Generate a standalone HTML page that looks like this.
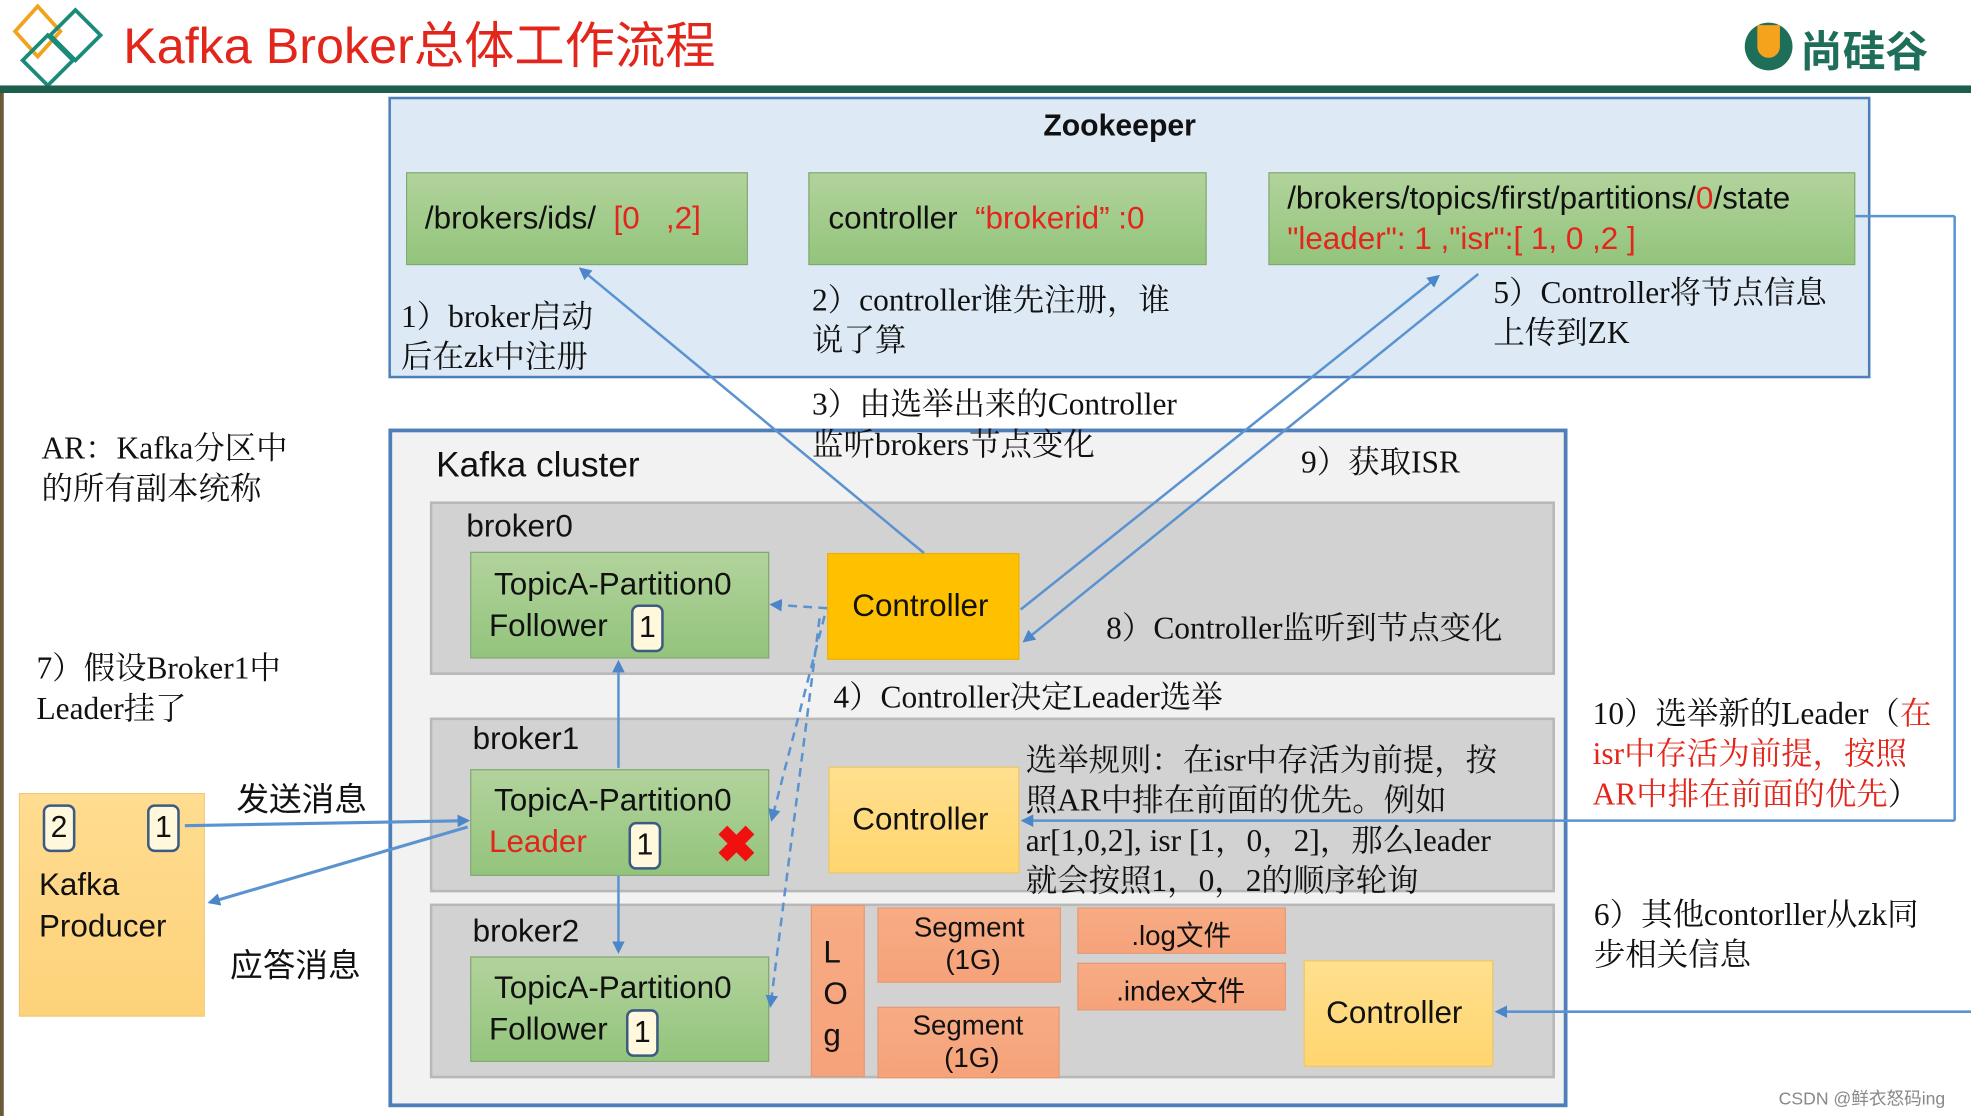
<!DOCTYPE html>
<html><head><meta charset="utf-8">
<style>
html,body{margin:0;padding:0;background:#fff;overflow:hidden;}
#wrap{position:absolute;left:0;top:0;width:1568px;height:888px;transform-origin:0 0;transform:scale(1.25702,1.25676);font-family:"Liberation Sans","Noto Sans CJK SC",sans-serif;}
.a{position:absolute;box-sizing:border-box;}
.g{background:linear-gradient(#b2d39c,#93c47c);border:1.5px solid #7fa86c;}
.serif{font-family:"Liberation Serif","Noto Serif CJK SC",serif;font-size:25px;line-height:32px;color:#222;}
.t{position:absolute;white-space:nowrap;color:#111;}
.red{color:#e3261b;}
.br{background:#d2d2d2;border:2px solid #b8b8b8;}
.badge{position:absolute;width:26px;height:38px;border:2.5px solid #3d5a80;border-radius:6px;background:#fff8dc;box-sizing:border-box;font-size:24px;text-align:center;line-height:34px;color:#111;}
.or{background:linear-gradient(#f7ac84,#f6a27a);border:1.5px solid #e89670;}
.ctl{background:linear-gradient(#ffe08f,#ffd56e);border:1.5px solid #f0c860;}
</style></head><body>
<div id="wrap">
<!-- header -->
<svg class="a" style="left:0;top:0" width="1568" height="888">
  <g fill="none" stroke-width="3">
    <path d="M30 5 L48 25 L30 45 L12 25 Z" stroke="#f2a31c"/>
    <path d="M60 8 L80 28 L60 48 L40 28 Z" stroke="#1a8a7a"/>
    <path d="M38 28 L58 48 L38 68 L18 48 Z" stroke="#1a8a7a"/>
  </g>
  <rect x="0" y="68" width="1568" height="6" fill="#1e5e4c"/>
  <rect x="0" y="74" width="3" height="814" fill="#6a5a3a"/>
</svg>
<div class="t" style="left:98px;top:4px;font-size:40px;color:#e3261b;">Kafka Broker总体工作流程</div>
<div class="a" style="left:1388px;top:18px;width:38px;height:38px;border-radius:50%;background:#1e6e5a;"></div>
<div class="a" style="left:1398px;top:20px;width:18px;height:26px;border-radius:0 0 9px 9px;background:#f5a21c;"></div>
<div class="t" style="left:1432px;top:14px;font-size:34px;color:#1e6e5a;font-weight:bold;">尚硅谷</div>

<!-- Zookeeper -->
<div class="a" style="left:309px;top:77px;width:1179px;height:224px;background:#dde9f5;border:2.5px solid #4f7fb8;"></div>
<div class="t" style="left:830px;top:87px;font-size:24px;font-weight:bold;">Zookeeper</div>
<div class="a g" style="left:323px;top:137px;width:272px;height:74px;"></div>
<div class="t" style="left:338px;top:160px;font-size:25px;">/brokers/ids/ &nbsp;<span class="red">[0 &nbsp;&nbsp;,2]</span></div>
<div class="a g" style="left:643px;top:137px;width:317px;height:74px;"></div>
<div class="t" style="left:659px;top:160px;font-size:25px;">controller &nbsp;<span class="red">“brokerid” :0</span></div>
<div class="a g" style="left:1009px;top:137px;width:467px;height:74px;"></div>
<div class="t" style="left:1024px;top:144px;font-size:25px;">/brokers/topics/first/partitions/<span class="red">0</span>/state</div>
<div class="t red" style="left:1024px;top:176px;font-size:25px;">"leader": 1 ,"isr":[ 1, 0 ,2 ]</div>
<div class="t serif" style="left:319px;top:237px;">1）broker启动<br>后在zk中注册</div>
<div class="t serif" style="left:646px;top:224px;">2）controller谁先注册，谁<br>说了算</div>
<div class="t serif" style="left:1188px;top:218px;">5）Controller将节点信息<br>上传到ZK</div>
<div class="t serif" style="left:33px;top:342px;">AR：Kafka分区中<br>的所有副本统称</div>
<div class="t serif" style="left:29px;top:517px;">7）假设Broker1中<br>Leader挂了</div>

<!-- cluster -->
<div class="a" style="left:309px;top:341px;width:938px;height:540px;background:#f2f2f2;border:3px solid #4f7fb8;"></div>
<div class="t serif" style="left:646px;top:307px;">3）由选举出来的Controller<br>监听brokers节点变化</div>
<div class="t" style="left:347px;top:354px;font-size:28px;">Kafka cluster</div>
<div class="t serif" style="left:1035px;top:353px;">9）获取ISR</div>

<div class="a br" style="left:342px;top:399px;width:895px;height:138px;"></div>
<div class="t" style="left:371px;top:405px;font-size:25px;">broker0</div>
<div class="a br" style="left:342px;top:571px;width:895px;height:139px;"></div>
<div class="t" style="left:376px;top:574px;font-size:25px;">broker1</div>
<div class="a br" style="left:342px;top:719px;width:895px;height:139px;"></div>
<div class="t" style="left:376px;top:727px;font-size:25px;">broker2</div>

<div class="a g" style="left:374px;top:439px;width:238px;height:85px;"></div>
<div class="t" style="left:393px;top:451px;font-size:25px;">TopicA-Partition0</div>
<div class="t" style="left:389px;top:484px;font-size:25px;">Follower</div>
<div class="badge" style="left:502px;top:481px;">1</div>

<div class="a g" style="left:374px;top:612px;width:238px;height:85px;"></div>
<div class="t" style="left:393px;top:623px;font-size:25px;">TopicA-Partition0</div>
<div class="t red" style="left:389px;top:656px;font-size:25px;">Leader</div>
<div class="badge" style="left:500px;top:654px;">1</div>
<div class="t" style="left:569px;top:650px;font-size:40px;color:#f01010;font-weight:bold;">✖</div>

<div class="a g" style="left:374px;top:761px;width:238px;height:84px;"></div>
<div class="t" style="left:393px;top:772px;font-size:25px;">TopicA-Partition0</div>
<div class="t" style="left:389px;top:805px;font-size:25px;">Follower</div>
<div class="badge" style="left:498px;top:803px;">1</div>

<div class="a" style="left:658px;top:440px;width:153px;height:85px;background:#ffc000;border:1px solid #f0b000;"></div>
<div class="t" style="left:678px;top:468px;font-size:25px;">Controller</div>
<div class="t serif" style="left:880px;top:485px;">8）Controller监听到节点变化</div>
<div class="t serif" style="left:663px;top:540px;">4）Controller决定Leader选举</div>

<div class="a ctl" style="left:659px;top:610px;width:152px;height:85px;"></div>
<div class="t" style="left:678px;top:638px;font-size:25px;">Controller</div>
<div class="t serif" style="left:816px;top:590px;">选举规则：在isr中存活为前提，按<br>照AR中排在前面的优先。例如<br>ar[1,0,2], isr [1，0，2]，那么leader<br>就会按照1，0，2的顺序轮询</div>

<div class="a or" style="left:645px;top:720px;width:43px;height:137px;"></div>
<div class="t" style="left:655px;top:742px;font-size:25px;line-height:33px;white-space:normal;width:20px;">L<br>O<br>g</div>
<div class="a or" style="left:698px;top:722px;width:146px;height:60px;"></div>
<div class="t" style="left:727px;top:725px;font-size:22px;line-height:26px;text-align:center;">Segment<br>&nbsp;(1G)</div>
<div class="a or" style="left:698px;top:801px;width:145px;height:57px;"></div>
<div class="t" style="left:726px;top:803px;font-size:22px;line-height:26px;text-align:center;">Segment<br>&nbsp;(1G)</div>
<div class="a or" style="left:857px;top:722px;width:166px;height:37px;"></div>
<div class="t" style="left:900px;top:727px;font-size:22px;">.log文件</div>
<div class="a or" style="left:857px;top:766px;width:166px;height:38px;"></div>
<div class="t" style="left:888px;top:771px;font-size:22px;">.index文件</div>
<div class="a ctl" style="left:1037px;top:764px;width:151px;height:85px;"></div>
<div class="t" style="left:1055px;top:792px;font-size:25px;">Controller</div>

<!-- producer -->
<div class="a" style="left:15px;top:631px;width:148px;height:178px;background:linear-gradient(#ffdc90,#fdd27a);border:1.5px solid #f0c870;"></div>
<div class="badge" style="left:34px;top:640px;">2</div>
<div class="badge" style="left:117px;top:640px;">1</div>
<div class="t" style="left:31px;top:688px;font-size:25px;line-height:33px;">Kafka<br>Producer</div>
<div class="t" style="left:188px;top:616px;font-size:26px;">发送消息</div>
<div class="t" style="left:183px;top:748px;font-size:26px;">应答消息</div>

<div class="t serif" style="left:1267px;top:553px;">10）选举新的Leader（<span class="red">在</span><br><span class="red">isr中存活为前提，按照<br>AR中排在前面的优先</span>）</div>
<div class="t serif" style="left:1268px;top:713px;">6）其他contorller从zk同<br>步相关信息</div>
<div class="t" style="left:1415px;top:864px;font-size:14px;color:#888;">CSDN @鲜衣怒码ing</div>

<!-- arrows -->
<svg class="a" style="left:0;top:0" width="1568" height="888">
 <defs>
  <marker id="m" markerWidth="10" markerHeight="10" refX="8" refY="5" orient="auto" markerUnits="userSpaceOnUse"><path d="M0 0 L10 5 L0 10 Z" fill="#4a86c8"/></marker>
 </defs>
 <g stroke="#5b93d0" stroke-width="2" fill="none">
  <line x1="735" y1="440" x2="462" y2="214" marker-end="url(#m)"/>
  <line x1="812" y1="485" x2="1144" y2="220" marker-end="url(#m)"/>
  <line x1="1176" y1="218" x2="815" y2="510" marker-end="url(#m)"/>
  <line x1="492" y1="611" x2="492" y2="527" marker-end="url(#m)"/>
  <line x1="492" y1="697" x2="492" y2="757" marker-end="url(#m)"/>
  <line x1="1476" y1="172" x2="1555" y2="172"/>
  <line x1="1555" y1="172" x2="1555" y2="653"/>
  <line x1="1555" y1="653" x2="814" y2="653" marker-end="url(#m)"/>
  <line x1="1568" y1="805" x2="1191" y2="805" marker-end="url(#m)"/>
  <line x1="147" y1="657" x2="372" y2="653" stroke-width="2.5" marker-end="url(#m)"/>
  <line x1="372" y1="658" x2="167" y2="718" stroke-width="2.5" marker-end="url(#m)"/>
 </g>
 <g stroke="#5b93d0" stroke-width="2" fill="none" stroke-dasharray="7,5">
  <line x1="658" y1="484" x2="614" y2="481" marker-end="url(#m)"/>
  <line x1="656" y1="490" x2="614" y2="652" marker-end="url(#m)"/>
  <line x1="652" y1="492" x2="613" y2="800" marker-end="url(#m)"/>
 </g>
</svg>
</div>
</body></html>
